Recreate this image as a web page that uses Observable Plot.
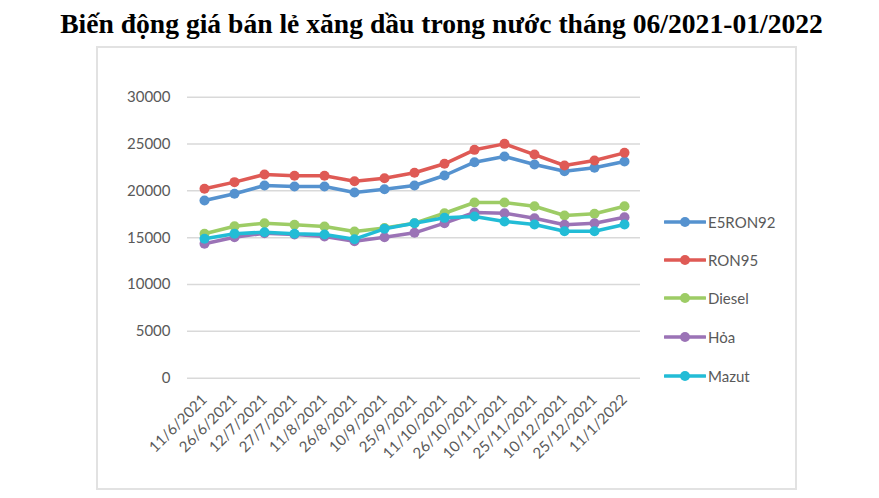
<!DOCTYPE html>
<html><head><meta charset="utf-8">
<script src="https://cdn.jsdelivr.net/npm/d3@7"></script>
<script src="https://cdn.jsdelivr.net/npm/@observablehq/plot@0.6"></script>
<style>
body{margin:0;background:#fff;}
#wrap{position:relative;width:879px;height:498px;overflow:hidden;background:#fff;}
#title{position:absolute;left:0;top:8px;width:883px;text-align:center;font:bold 27.6px "Liberation Serif","Times New Roman",serif;line-height:31px;color:#000;white-space:nowrap;}
#frame{position:absolute;left:96px;top:46px;width:697px;height:440px;border:2px solid #e2e2e2;}
#chart{position:absolute;left:0;top:47px;}
#legend{position:absolute;left:0;top:0;}
.item{position:absolute;left:664px;height:20px;display:flex;align-items:center;font:15px Lato,sans-serif;color:#595959;white-space:nowrap;}
.item svg{display:block;margin-right:2px;}
</style></head>
<body>
<div id="wrap">
  <div id="frame"></div>
  <div id="title">Biến động giá bán lẻ xăng dầu trong nước tháng 06/2021-01/2022</div>
  <div id="chart"></div>
  <div id="legend"></div>
</div>
<script>
const dates = ["11/6/2021","26/6/2021","12/7/2021","27/7/2021","11/8/2021","26/8/2021","10/9/2021","25/9/2021","11/10/2021","26/10/2021","10/11/2021","25/11/2021","10/12/2021","25/12/2021","11/1/2022"];
const e5ron92 = [18970,19690,20570,20470,20470,19830,20180,20570,21640,23060,23670,22820,22100,22460,23140];
const ron95   = [20220,20930,21750,21610,21610,21030,21350,21930,22890,24380,25020,23880,22710,23240,24060];
const diesel  = [15420,16230,16550,16380,16200,15660,16040,16550,17610,18760,18760,18360,17370,17550,18360];
const hoa     = [14350,15050,15480,15340,15130,14630,15050,15520,16550,17690,17610,17080,16380,16550,17190];
const mazut   = [14880,15420,15590,15420,15340,14840,15950,16550,17120,17260,16730,16410,15690,15690,16410];
const seriesNames = ["E5RON92","RON95","Diesel","Hỏa","Mazut"];
const seriesValues = [e5ron92, ron95, diesel, hoa, mazut];
const seriesColors = ["#5592CF","#DF5A55","#9DCC65","#9B73B6","#22BCD6"];
const yTicks = [0,5000,10000,15000,20000,25000,30000];

const rows = [];
seriesNames.forEach((s, i) => dates.forEach((d, j) => rows.push({series: s, date: d, value: seriesValues[i][j]})));

const seriesMarks = seriesNames.flatMap(s => {
  const data = rows.filter(r => r.series === s);
  return [
    Plot.line(data, {x: "date", y: "value", stroke: "series", strokeWidth: 3.5, curve: "linear"}),
    Plot.dot(data, {x: "date", y: "value", fill: "series", r: 5, stroke: "none"})
  ];
});

const chart = Plot.plot({
  width: 879, height: 451,
  marginLeft: 187, marginRight: 239, marginTop: 49.7, marginBottom: 120.3,
  style: {fontFamily: "Lato, sans-serif", fontSize: "15px", color: "#595959", background: "transparent", overflow: "visible"},
  x: {type: "point", domain: dates, padding: 0.5},
  y: {domain: [0, 30000]},
  color: {domain: seriesNames, range: seriesColors},
  marks: [
    Plot.gridY(yTicks, {stroke: "#d9d9d9", strokeOpacity: 1, strokeWidth: 1.5}),
    Plot.axisY(yTicks, {tickSize: 0, tickPadding: 17, tickFormat: d => String(d), label: null, fill: "#595959"}),
    Plot.axisX({tickSize: 0, tickPadding: 19, tickRotate: -45, label: null, fill: "#595959"}),
    ...seriesMarks
  ]
});
document.getElementById("chart").appendChild(chart);

// legend
const legendY = [222, 260, 298, 337, 376];
const legend = document.getElementById("legend");
seriesNames.forEach((s, i) => {
  const div = document.createElement("div");
  div.className = "item";
  div.style.top = (legendY[i] - 10) + "px";
  div.innerHTML = `<svg width="42" height="20"><line x1="1" y1="10" x2="41" y2="10" stroke="${seriesColors[i]}" stroke-width="3.5" stroke-linecap="round"/><circle cx="21" cy="10" r="5" fill="${seriesColors[i]}"/></svg><span>${s}</span>`;
  legend.appendChild(div);
});
</script>
</body></html>
